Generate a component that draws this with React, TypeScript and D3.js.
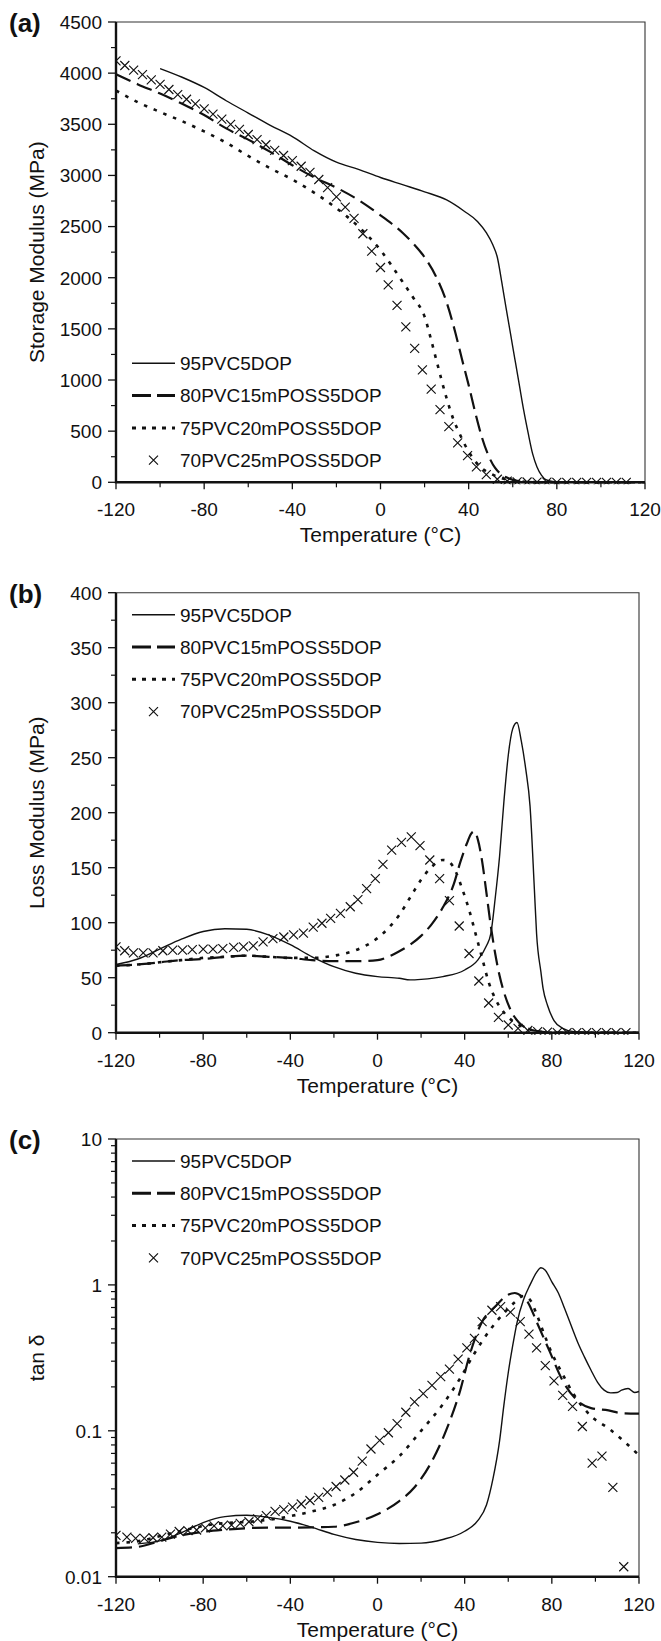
import React, { useRef, useEffect } from 'react';
import * as d3 from 'd3';

const W = 661;
const H = 1641;
const FONT = '"Liberation Sans", Arial, Helvetica, sans-serif';
const INK = '#111';

const SERIES_NAMES = ['95PVC5DOP', '80PVC15mPOSS5DOP', '75PVC20mPOSS5DOP', '70PVC25mPOSS5DOP'];
const PANEL_TAGS = ['(a)', '(b)', '(c)'];
const Y_TITLES = ['Storage Modulus (MPa)', 'Loss Modulus (MPa)', 'tan \u03b4'];
const X_TITLE = 'Temperature (\u00b0C)';

const TEMP_TICKS = [-120, -80, -40, 0, 40, 80, 120];
const TEMP_MINOR = [-100, -60, -20, 20, 60, 100];
const STORAGE_TICKS = [0, 500, 1000, 1500, 2000, 2500, 3000, 3500, 4000, 4500];
const LOSS_TICKS = [0, 50, 100, 150, 200, 250, 300, 350, 400];
const TAN_TICKS = [0.01, 0.1, 1, 10];
const TAN_LABELS = ['0.01', '0.1', '1', '10'];

// (a) storage modulus, [T, MPa]
const SOLID_A = [[-100, 4045], [-90, 3960], [-80, 3860], [-70, 3730], [-60, 3610], [-50, 3490], [-40, 3380], [-30, 3240], [-20, 3130], [-10, 3060], [0, 2980], [10, 2910], [20, 2840], [30, 2760], [38, 2650], [44, 2550], [48, 2440], [51, 2320], [53, 2200], [55, 1960], [57, 1700], [59, 1450], [61, 1200], [63, 950], [65, 700], [67, 480], [69, 280], [71, 150], [73, 70], [75, 25], [78, 8], [85, 2], [100, 0], [120, 0]];
const DASH_A = [[-120, 3990], [-110, 3890], [-100, 3800], [-90, 3700], [-80, 3590], [-70, 3460], [-60, 3350], [-50, 3230], [-40, 3100], [-30, 2980], [-20, 2880], [-10, 2760], [0, 2610], [5, 2530], [10, 2440], [15, 2330], [20, 2200], [25, 2020], [30, 1760], [34, 1460], [37, 1200], [40, 950], [43, 680], [46, 440], [49, 260], [52, 140], [55, 75], [58, 40], [62, 15], [66, 5], [72, 0], [120, 0]];
const DOT_A = [[-120, 3830], [-110, 3715], [-100, 3620], [-90, 3530], [-80, 3430], [-70, 3320], [-60, 3190], [-50, 3070], [-40, 2960], [-30, 2830], [-20, 2680], [-10, 2500], [0, 2270], [5, 2120], [10, 1960], [15, 1800], [20, 1620], [23, 1390], [26, 1140], [30, 820], [33, 620], [36, 470], [40, 300], [45, 155], [50, 85], [55, 40], [60, 16], [66, 5], [72, 1], [80, 0], [120, 0]];
const CROSS_A = [[-120, 4120], [-116, 4075], [-112, 4030], [-108, 3985], [-104, 3935], [-100, 3890], [-96, 3840], [-92, 3790], [-88, 3745], [-84, 3700], [-80, 3650], [-76, 3600], [-72, 3550], [-68, 3500], [-64, 3450], [-60, 3400], [-56, 3350], [-52, 3300], [-48, 3245], [-44, 3195], [-40, 3145], [-36, 3090], [-32, 3030], [-28, 2960], [-24, 2880], [-20, 2790], [-16, 2690], [-12, 2580], [-8, 2430], [-4, 2260], [0, 2100], [3.5, 1930], [7.5, 1730], [11.5, 1520], [15.5, 1310], [19, 1100], [23, 910], [27, 710], [31, 545], [35, 385], [39.5, 260], [43.5, 150], [48, 75], [53, 30], [57.5, 12], [62, 5], [66.5, 3], [71, 2], [75.5, 1], [80, 0], [84.5, 0], [89, 0], [93.5, 0], [98, 0], [102.5, 0], [107, 0], [111.5, 0]];

// (b) loss modulus, [T, MPa]
const SOLID_B = [[-120, 62], [-110, 67], [-100, 76], [-90, 85], [-80, 92], [-70, 94.5], [-60, 94], [-50, 89], [-40, 80], [-30, 69], [-20, 60], [-10, 54], [0, 51], [10, 49.5], [15, 48], [20, 48.5], [30, 51], [40, 57], [46, 66], [50, 79], [52, 90], [54, 122], [56, 160], [58, 210], [60, 252], [62, 276], [64, 282], [66, 265], [68, 240], [70, 206], [72, 130], [73, 90], [75, 55], [76, 40], [78, 25], [81, 11], [85, 4], [90, 1], [100, 0], [120, 0]];
const DASH_B = [[-120, 61], [-110, 62], [-100, 64], [-90, 66], [-80, 67], [-70, 69], [-60, 70], [-50, 69], [-40, 68], [-30, 66], [-20, 65], [-10, 65], [0, 66], [5, 69], [10, 74], [15, 80], [20, 88], [25, 99], [30, 114], [35, 135], [38, 155], [41, 172], [43, 181], [44.5, 183], [46, 176], [48, 156], [50, 127], [52, 97], [54, 72], [56, 52], [58, 37], [61, 21], [65, 9], [70, 3], [75, 1], [80, 0], [120, 0]];
const DOT_B = [[-120, 61], [-110, 62], [-100, 64], [-90, 66], [-80, 68], [-70, 69], [-60, 70], [-50, 69], [-40, 68], [-30, 68], [-20, 70], [-10, 75], [0, 86], [5, 95], [10, 107], [15, 123], [20, 139], [25, 151], [30, 157], [33, 155], [36, 146], [39, 130], [42, 112], [45, 90], [48, 68], [51, 46], [54, 31], [57, 21], [60, 14], [65, 7], [70, 3], [80, 0], [120, 0]];
const CROSS_B = [[-120, 78], [-116, 74.5], [-112, 72.5], [-107.5, 72.5], [-103, 72.5], [-98.5, 74.5], [-94, 75], [-89.5, 75], [-85, 75.5], [-80, 76], [-75.5, 76], [-71, 76.5], [-66, 77.5], [-61.5, 78], [-57, 79], [-52.5, 82.5], [-48, 85.5], [-43, 87], [-38.5, 89], [-34, 90.5], [-29.5, 96], [-25.5, 99.5], [-21.5, 104], [-17, 108.5], [-12.5, 114.5], [-9, 121], [-5, 131], [-1, 140], [2.5, 153], [6.5, 166], [11, 173], [15.5, 178], [19.5, 170], [24, 157], [28.5, 140], [33, 120], [37.5, 97], [42, 72], [46.5, 47], [51, 27], [55.5, 14], [60, 7], [64.5, 4], [69, 2], [73.5, 1], [78, 0.5], [82.5, 0], [87, 0], [91.5, 0], [96, 0], [100.5, 0], [105, 0], [109.5, 0], [114, 0]];

// (c) tan delta, [T, tan d]
const SOLID_C = [[-110, 0.0168], [-100, 0.0176], [-90, 0.02], [-80, 0.0235], [-70, 0.0258], [-60, 0.0264], [-50, 0.0255], [-40, 0.024], [-30, 0.0218], [-20, 0.0195], [-10, 0.018], [0, 0.0172], [10, 0.0169], [20, 0.017], [30, 0.018], [40, 0.0205], [46, 0.0242], [50, 0.031], [53, 0.047], [56, 0.085], [58, 0.15], [60, 0.25], [62, 0.38], [64, 0.55], [67, 0.79], [70, 1.0], [73, 1.22], [75, 1.31], [77, 1.26], [80, 1.05], [83, 0.88], [86, 0.68], [89, 0.52], [92, 0.4], [95, 0.32], [98, 0.26], [101, 0.215], [104, 0.19], [107, 0.182], [110, 0.183], [112, 0.19], [115, 0.195], [118, 0.183], [120, 0.186]];
const DASH_C = [[-120, 0.0157], [-110, 0.016], [-100, 0.0175], [-90, 0.0192], [-80, 0.0203], [-70, 0.021], [-60, 0.0215], [-50, 0.0217], [-40, 0.0217], [-30, 0.0218], [-20, 0.022], [-10, 0.0236], [0, 0.0268], [10, 0.033], [17, 0.041], [25, 0.062], [32, 0.105], [38, 0.19], [42, 0.32], [48, 0.56], [54, 0.71], [59, 0.84], [63, 0.88], [66, 0.84], [69, 0.76], [73, 0.56], [79, 0.35], [85, 0.22], [91, 0.165], [98, 0.143], [106, 0.138], [112, 0.132], [120, 0.131]];
const DOT_C = [[-120, 0.017], [-110, 0.0175], [-95, 0.0198], [-76, 0.0228], [-56, 0.024], [-46, 0.025], [-40, 0.026], [-30, 0.028], [-20, 0.031], [-10, 0.0375], [0, 0.05], [10, 0.067], [20, 0.1], [30, 0.152], [38, 0.23], [44, 0.33], [52, 0.5], [58, 0.64], [63, 0.76], [67, 0.84], [70, 0.79], [73, 0.63], [76, 0.48], [80, 0.34], [84, 0.26], [90, 0.178], [98, 0.126], [106, 0.104], [113, 0.085], [120, 0.068]];
const CROSS_C = [[-120, 0.0192], [-115, 0.0187], [-111, 0.0183], [-107, 0.0183], [-103, 0.0185], [-99, 0.0187], [-95, 0.0196], [-91, 0.0204], [-87, 0.0207], [-83, 0.0209], [-79, 0.0216], [-75, 0.0223], [-71, 0.0223], [-67, 0.0226], [-63, 0.0232], [-59, 0.0238], [-55, 0.0249], [-51, 0.0262], [-47, 0.028], [-43, 0.0288], [-39, 0.03], [-35, 0.0315], [-31, 0.0333], [-27, 0.035], [-23, 0.038], [-19, 0.0415], [-15, 0.046], [-11, 0.052], [-7, 0.062], [-3, 0.075], [1, 0.086], [5, 0.097], [9, 0.112], [13, 0.134], [17, 0.158], [21, 0.18], [25, 0.205], [29, 0.235], [33, 0.265], [37, 0.31], [41, 0.37], [44.5, 0.43], [48, 0.56], [52.5, 0.67], [56.5, 0.71], [61, 0.65], [65.5, 0.56], [69.5, 0.46], [73, 0.37], [77, 0.28], [81, 0.22], [85, 0.175], [89.5, 0.147], [94, 0.107], [98.5, 0.06], [103, 0.067], [108, 0.041], [113, 0.0117]];

const STYLES = [
  { width: 1.4, dash: null, legendDash: null, legendWidth: 1.4 },
  { width: 2.2, dash: '16,7', legendDash: '19,6', legendWidth: 3 },
  { width: 2.6, dash: '3.5,7', legendDash: '4,6', legendWidth: 3 },
];

const PANELS = [
  { left: 116, right: 645, top: 22, bottom: 482.3, log: false, domain: [0, 4500], ticks: STORAGE_TICKS, minor: 250,
    lines: [SOLID_A, DASH_A, DOT_A], crosses: CROSS_A, legendAtBottom: true },
  { left: 116, right: 639, top: 592.7, bottom: 1032.7, log: false, domain: [0, 400], ticks: LOSS_TICKS, minor: 25,
    lines: [SOLID_B, DASH_B, DOT_B], crosses: CROSS_B, legendAtBottom: false },
  { left: 116, right: 639, top: 1139, bottom: 1576.7, log: true, domain: [0.01, 10], ticks: TAN_TICKS, minor: 0,
    lines: [SOLID_C, DASH_C, DOT_C], crosses: CROSS_C, legendAtBottom: false },
];

const CROSS_PATH = 'M-4.5,-4.5L4.5,4.5M-4.5,4.5L4.5,-4.5';

function drawPanel(svg, p, i) {
  const x = d3.scaleLinear().domain([-120, 120]).range([p.left, p.right]);
  const y = (p.log ? d3.scaleLog() : d3.scaleLinear()).domain(p.domain).range([p.bottom, p.top]);
  const g = svg.append('g');

  const clipId = `clip-${i}`;
  g.append('clipPath').attr('id', clipId).append('rect')
    .attr('x', p.left).attr('y', p.top - 2)
    .attr('width', p.right - p.left + 2).attr('height', p.bottom - p.top + 4);

  // thin frame (top + right)
  g.append('path')
    .attr('d', `M${p.left},${p.top}H${p.right}V${p.bottom}`)
    .attr('fill', 'none').attr('stroke', '#333').attr('stroke-width', 1.1);

  const plot = g.append('g').attr('clip-path', `url(#${clipId})`);
  const line = d3.line().x(d => x(d[0])).y(d => y(d[1])).curve(d3.curveMonotoneX);

  p.lines.forEach((data, k) => {
    const s = STYLES[k];
    plot.append('path').datum(data).attr('d', line)
      .attr('fill', 'none').attr('stroke', INK).attr('stroke-width', s.width)
      .attr('stroke-dasharray', s.dash).attr('stroke-linejoin', 'round');
  });

  plot.append('g').selectAll('path')
    .data(p.crosses)
    .join('path')
    .attr('transform', d => `translate(${x(d[0])},${y(d[1])})`)
    .attr('d', CROSS_PATH)
    .attr('fill', 'none').attr('stroke', INK).attr('stroke-width', 1.15);

  // y ticks
  const ax = g.append('g');
  let minorVals = [];
  if (p.log) {
    [0.01, 0.1, 1].forEach(dec => {
      for (let m = 2; m <= 9; m++) minorVals.push(dec * m);
    });
  } else {
    minorVals = d3.range(p.domain[0] + p.minor, p.domain[1], p.minor * 2);
  }
  ax.selectAll('line.ymin').data(minorVals).join('line')
    .attr('x1', p.left - 5).attr('x2', p.left)
    .attr('y1', d => y(d)).attr('y2', d => y(d))
    .attr('stroke', INK).attr('stroke-width', 1.2);
  ax.selectAll('line.ymaj').data(p.ticks).join('line')
    .attr('x1', p.left - 8).attr('x2', p.left)
    .attr('y1', d => y(d)).attr('y2', d => y(d))
    .attr('stroke', INK).attr('stroke-width', 1.3);
  ax.selectAll('text.ylab').data(p.ticks).join('text')
    .attr('x', p.left - 14).attr('y', d => y(d)).attr('dy', '0.36em')
    .attr('text-anchor', 'end').attr('font-size', 19).attr('font-family', FONT).attr('fill', INK)
    .text((d, j) => (p.log ? TAN_LABELS[j] : String(d)));

  // x ticks
  ax.selectAll('line.xmin').data(TEMP_MINOR).join('line')
    .attr('x1', d => x(d)).attr('x2', d => x(d))
    .attr('y1', p.bottom).attr('y2', p.bottom + 5)
    .attr('stroke', INK).attr('stroke-width', 1.2);
  ax.selectAll('line.xmaj').data(TEMP_TICKS).join('line')
    .attr('x1', d => x(d)).attr('x2', d => x(d))
    .attr('y1', p.bottom).attr('y2', p.bottom + 7)
    .attr('stroke', INK).attr('stroke-width', 1.3);
  ax.selectAll('text.xlab').data(TEMP_TICKS).join('text')
    .attr('x', d => x(d)).attr('y', p.bottom + 34)
    .attr('text-anchor', 'middle').attr('font-size', 19).attr('font-family', FONT).attr('fill', INK)
    .text(d => String(d));

  // thick axes
  g.append('path')
    .attr('d', `M${p.left},${p.top}V${p.bottom}H${p.right}`)
    .attr('fill', 'none').attr('stroke', INK).attr('stroke-width', 2.4);

  // titles
  g.append('text')
    .attr('x', (p.left + p.right) / 2).attr('y', p.bottom + 60)
    .attr('text-anchor', 'middle').attr('font-size', 21).attr('font-family', FONT).attr('fill', INK)
    .text(X_TITLE);
  g.append('text')
    .attr('transform', `translate(37,${(p.top + p.bottom) / 2}) rotate(-90)`)
    .attr('dy', '0.35em')
    .attr('text-anchor', 'middle').attr('font-size', 21).attr('font-family', FONT).attr('fill', INK)
    .text(Y_TITLES[i]);
  g.append('text')
    .attr('x', 9).attr('y', p.top + 10)
    .attr('font-size', 26).attr('font-weight', 'bold').attr('font-family', FONT).attr('fill', INK)
    .text(PANEL_TAGS[i]);

  // legend
  const rowGap = 32.3;
  const y0 = p.legendAtBottom ? p.bottom - 119 : p.top + 22;
  const lg = g.append('g');
  SERIES_NAMES.forEach((name, k) => {
    const ry = y0 + k * rowGap;
    if (k < 3) {
      const s = STYLES[k];
      lg.append('line')
        .attr('x1', 132).attr('x2', 175).attr('y1', ry).attr('y2', ry)
        .attr('stroke', INK).attr('stroke-width', s.legendWidth)
        .attr('stroke-dasharray', s.legendDash);
    } else {
      lg.append('path')
        .attr('transform', `translate(153.5,${ry})`)
        .attr('d', CROSS_PATH)
        .attr('fill', 'none').attr('stroke', INK).attr('stroke-width', 1.15);
    }
    lg.append('text')
      .attr('x', 180).attr('y', ry).attr('dy', '0.36em')
      .attr('font-size', 19).attr('font-family', FONT).attr('fill', INK)
      .text(name);
  });
}

export default function App() {
  const svgRef = useRef(null);

  useEffect(() => {
    if (!svgRef.current) return;
    const svg = d3.select(svgRef.current);
    svg.selectAll('*').remove();
    svg.append('rect').attr('width', W).attr('height', H).attr('fill', '#fff');
    PANELS.forEach((p, i) => drawPanel(svg, p, i));
  }, []);

  return (
    <svg
      ref={svgRef}
      width={W}
      height={H}
      style={{ position: 'absolute', left: 0, top: 0, background: '#fff' }}
    />
  );
}
